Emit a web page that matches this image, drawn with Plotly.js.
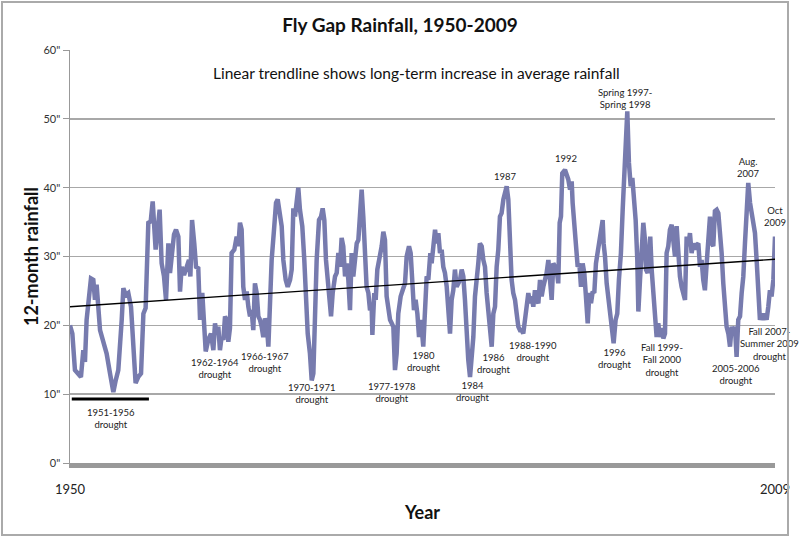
<!DOCTYPE html>
<html>
<head>
<meta charset="utf-8">
<script src="https://cdn.plot.ly/plotly-3.0.1.min.js"></script>
<style>
  html, body { margin: 0; padding: 0; background: #fff; }
  #wrap { position: relative; width: 800px; height: 539px; }
  #chart { position: absolute; left: 0; top: 0; width: 800px; height: 539px; }
  #frame { position: absolute; left: 1px; top: 1px; width: 788px; height: 535px; box-sizing: border-box; border: 2px solid #aaaaaa; pointer-events: none; }
</style>
</head>
<body>
<div id="wrap"><div id="chart"></div><div id="frame"></div></div>
<script>
// 12-month rainfall (inches), [decimal year, inches]
const rainfall12mo = [
  [1950.00,20.0],[1950.20,18.8],[1950.42,13.5],[1950.71,12.8],[1950.93,12.5],[1951.13,16.4],[1951.27,14.7],[1951.41,20.8],[1951.61,24.7],[1951.78,26.8],
  [1951.98,26.6],[1952.12,23.7],[1952.26,25.9],[1952.41,22.7],[1952.55,19.3],[1952.83,17.6],[1953.11,15.9],[1953.40,13.0],[1953.68,10.3],[1953.88,12.0],
  [1954.10,13.5],[1954.39,20.8],[1954.53,25.4],[1954.73,24.4],[1954.95,24.7],[1955.18,22.7],[1955.38,16.9],[1955.57,11.6],[1955.80,12.5],[1956.03,13.0],
  [1956.23,21.7],[1956.42,22.5],[1956.65,34.9],[1956.85,35.1],[1957.02,38.0],[1957.16,33.9],[1957.27,31.0],[1957.44,33.9],[1957.61,36.8],[1957.78,29.0],
  [1957.98,27.1],[1958.15,23.7],[1958.35,31.9],[1958.49,27.6],[1958.63,30.5],[1958.83,33.2],[1959.00,33.9],[1959.20,32.9],[1959.34,24.9],[1959.48,28.5],
  [1959.68,27.3],[1959.90,28.5],[1960.10,29.5],[1960.22,27.1],[1960.36,35.3],[1960.55,31.9],[1960.70,28.5],[1960.89,28.3],[1961.04,20.8],[1961.23,24.7],
  [1961.40,20.3],[1961.52,16.2],[1961.74,17.9],[1961.97,18.8],[1962.17,16.4],[1962.31,20.3],[1962.45,18.8],[1962.59,19.8],[1962.73,16.4],[1962.87,18.3],
  [1963.02,17.9],[1963.16,21.3],[1963.30,20.8],[1963.44,17.6],[1963.58,19.6],[1963.72,30.5],[1963.95,31.0],[1964.15,32.9],[1964.29,31.5],[1964.43,34.9],
  [1964.57,33.9],[1964.71,25.6],[1964.86,23.7],[1965.00,24.9],[1965.14,22.7],[1965.28,21.3],[1965.42,22.2],[1965.56,19.3],[1965.70,26.1],[1965.85,24.7],
  [1965.99,21.3],[1966.13,20.8],[1966.27,19.8],[1966.41,18.3],[1966.55,21.0],[1966.70,20.3],[1966.84,16.9],[1966.98,23.7],[1967.12,29.5],[1967.32,33.9],
  [1967.49,37.8],[1967.63,38.3],[1967.77,36.8],[1967.97,34.4],[1968.11,29.5],[1968.31,26.6],[1968.48,25.6],[1968.68,26.6],[1968.82,28.1],[1968.96,37.0],
  [1969.10,35.8],[1969.24,38.3],[1969.38,40.0],[1969.52,36.8],[1969.72,34.4],[1969.89,29.5],[1970.03,24.7],[1970.18,18.8],[1970.37,15.9],[1970.52,12.0],
  [1970.66,13.0],[1970.80,20.8],[1970.94,29.5],[1971.14,35.3],[1971.31,35.8],[1971.45,37.0],[1971.59,35.3],[1971.73,29.5],[1971.87,26.6],[1971.99,23.7],
  [1972.16,21.3],[1972.30,24.7],[1972.50,27.1],[1972.64,27.6],[1972.78,30.5],[1972.92,28.5],[1973.06,32.7],[1973.20,31.5],[1973.35,27.1],[1973.49,29.0],
  [1973.63,26.6],[1973.77,22.2],[1973.91,30.5],[1974.05,27.1],[1974.19,29.5],[1974.34,31.9],[1974.48,32.4],[1974.62,36.3],[1974.76,39.7],[1974.90,35.8],
  [1975.04,29.0],[1975.18,25.6],[1975.33,24.7],[1975.47,22.2],[1975.61,22.7],[1975.67,18.6],[1975.83,24.7],[1975.95,23.7],[1976.09,28.1],[1976.26,29.5],
  [1976.46,31.5],[1976.60,33.6],[1976.74,32.4],[1976.88,24.2],[1977.02,22.2],[1977.17,20.8],[1977.31,20.3],[1977.45,19.8],[1977.59,13.5],[1977.73,15.9],
  [1977.87,21.7],[1978.07,24.2],[1978.24,25.1],[1978.44,26.1],[1978.58,30.0],[1978.78,31.5],[1978.92,30.5],[1979.06,26.1],[1979.20,22.2],[1979.34,23.7],
  [1979.49,21.7],[1979.63,18.3],[1979.80,20.8],[1979.99,16.9],[1980.14,24.7],[1980.28,27.1],[1980.42,26.6],[1980.59,30.5],[1980.70,29.0],[1980.84,32.4],
  [1980.99,33.9],[1981.13,31.9],[1981.27,33.4],[1981.41,30.5],[1981.55,31.0],[1981.69,28.5],[1981.83,27.6],[1981.98,25.6],[1982.12,22.7],[1982.26,18.8],
  [1982.40,23.7],[1982.54,25.1],[1982.68,28.1],[1982.82,25.6],[1982.97,26.1],[1983.11,26.6],[1983.25,28.1],[1983.39,27.1],[1983.53,23.7],[1983.67,18.3],
  [1983.81,15.0],[1983.96,12.5],[1984.10,15.0],[1984.24,18.3],[1984.38,24.2],[1984.52,26.1],[1984.66,29.0],[1984.80,31.9],[1984.95,31.5],[1985.09,29.5],
  [1985.23,28.5],[1985.37,24.7],[1985.51,21.7],[1985.65,18.3],[1985.80,16.9],[1985.94,21.7],[1986.08,22.7],[1986.22,28.5],[1986.36,31.0],[1986.50,35.8],
  [1986.64,36.3],[1986.79,38.3],[1986.93,39.7],[1987.07,40.2],[1987.21,38.3],[1987.35,30.5],[1987.49,26.6],[1987.63,24.7],[1987.78,23.7],[1987.92,21.7],
  [1988.06,19.8],[1988.20,19.3],[1988.34,19.3],[1988.48,18.8],[1988.62,20.8],[1988.77,23.7],[1988.91,24.7],[1989.05,23.2],[1989.19,24.2],[1989.33,22.7],
  [1989.47,25.1],[1989.62,23.7],[1989.76,23.2],[1989.90,26.6],[1990.04,24.2],[1990.18,25.6],[1990.32,26.6],[1990.46,27.6],[1990.61,29.5],[1990.75,25.1],
  [1990.89,23.7],[1991.03,29.0],[1991.17,28.5],[1991.31,28.1],[1991.45,26.1],[1991.57,34.9],[1991.68,35.8],[1991.79,42.1],[1992.02,42.6],[1992.16,41.9],
  [1992.30,41.2],[1992.45,39.7],[1992.59,40.9],[1992.67,37.8],[1992.81,34.4],[1992.95,30.5],[1993.10,28.5],[1993.24,29.0],[1993.38,25.6],[1993.52,29.0],
  [1993.66,27.6],[1993.78,24.7],[1993.95,20.3],[1994.09,24.7],[1994.23,23.2],[1994.37,24.9],[1994.51,24.7],[1994.65,29.0],[1994.79,30.5],[1994.94,32.4],
  [1995.08,33.4],[1995.22,35.3],[1995.30,31.9],[1995.42,30.0],[1995.56,26.1],[1995.76,22.7],[1995.98,19.3],[1996.15,17.4],[1996.32,20.8],[1996.46,21.7],
  [1996.60,26.6],[1996.77,30.5],[1996.92,36.8],[1997.06,43.1],[1997.20,49.9],[1997.31,51.1],[1997.45,43.6],[1997.60,40.2],[1997.74,41.4],[1997.88,38.7],
  [1998.02,35.3],[1998.16,29.5],[1998.25,22.0],[1998.39,26.6],[1998.53,32.4],[1998.67,34.9],[1998.81,32.4],[1998.90,28.1],[1999.04,27.6],[1999.15,31.5],
  [1999.26,32.9],[1999.38,28.1],[1999.52,24.2],[1999.66,20.3],[1999.80,18.3],[1999.94,20.3],[2000.08,18.3],[2000.23,19.6],[2000.37,18.1],[2000.51,18.8],
  [2000.65,30.5],[2000.79,31.5],[2000.93,33.9],[2001.08,34.6],[2001.22,32.4],[2001.36,30.0],[2001.50,34.4],[2001.64,30.5],[2001.78,27.1],[2001.92,25.6],
  [2002.07,24.2],[2002.21,23.7],[2002.35,32.9],[2002.49,31.5],[2002.63,33.4],[2002.77,30.5],[2002.91,31.9],[2003.06,31.0],[2003.20,31.7],[2003.34,31.9],
  [2003.48,28.5],[2003.62,29.5],[2003.76,26.6],[2003.90,25.1],[2004.05,29.0],[2004.19,32.4],[2004.33,35.8],[2004.47,31.9],[2004.61,31.5],[2004.75,36.6],
  [2004.90,36.8],[2005.04,36.3],[2005.18,33.9],[2005.32,30.5],[2005.46,26.1],[2005.60,22.7],[2005.74,19.8],[2005.89,18.8],[2006.03,16.9],[2006.17,19.8],
  [2006.31,18.8],[2006.45,19.8],[2006.59,15.4],[2006.73,20.8],[2006.88,21.3],[2007.02,24.7],[2007.16,27.1],[2007.30,31.9],[2007.44,37.8],[2007.58,40.7],
  [2007.73,37.8],[2007.87,36.3],[2008.01,35.8],[2008.15,33.4],[2008.29,29.5],[2008.43,23.7],[2008.57,20.8],[2008.72,21.7],[2008.86,20.8],[2009.00,21.7],
  [2009.14,20.8],[2009.28,22.7],[2009.42,25.1],[2009.56,24.2],[2009.71,26.6],[2009.85,32.9]
];

// Linear trendline end points
const trendYears = [1950.0, 2009.85];
const trendInches = [22.7, 29.6];

// 1951-1956 drought bar
const droughtBarYears = [1950.15, 1956.7];
const droughtBarInches = [9.3, 9.3];

// Axis ticks
const yTickVals = [0, 10, 20, 30, 40, 50, 60];
const yTickText = ['0"', '10"', '20"', '30"', '40"', '50"', '60"'];
const xTickVals = [1950, 2009.85];
const xTickText = ['1950', '2009'];

// Event labels: text, year, inches
const labelTexts = [
  '1951-1956<br>drought', '1962-1964<br>drought', '1966-1967<br>drought', '1970-1971<br>drought',
  '1977-1978<br>drought', '1980<br>drought', '1984<br>drought', '1986<br>drought', '1987',
  '1988-1990<br>drought', '1992', 'Spring 1997-<br>Spring 1998', '1996<br>drought',
  'Fall 1999-<br>Fall 2000<br>drought', 'Aug.<br>2007', 'Oct<br>2009',
  'Fall 2007-<br>Summer 2009<br>drought', '2005-2006<br>drought'
];
const labelYears = [1953.48, 1962.35, 1966.55, 1970.54, 1977.33, 1979.97, 1984.13, 1985.91, 1987.01,
  1989.30, 1992.11, 1997.11, 1996.26, 2000.25, 2007.64, 2009.85, 2009.35, 2006.54];
const labelInches = [6.5, 13.7, 14.6, 10.1, 10.2, 14.7, 10.4, 14.4, 41.6,
  16.2, 44.2, 53.0, 15.2, 15.0, 43.0, 35.8, 17.3, 12.9];

const subtitleText = 'Linear trendline shows long-term increase in average rainfall';

const FONT = 'Lato, "Open Sans", sans-serif';

const traces = [
  {
    x: rainfall12mo.map(d => d[0]), y: rainfall12mo.map(d => d[1]),
    type: 'scatter', mode: 'lines',
    line: { color: '#777bae', width: 4.5 },
    hoverinfo: 'skip'
  },
  {
    x: trendYears, y: trendInches, type: 'scatter', mode: 'lines',
    line: { color: '#000', width: 1.3 }, hoverinfo: 'skip'
  },
  {
    x: droughtBarYears, y: droughtBarInches, type: 'scatter', mode: 'lines',
    line: { color: '#000', width: 3 }, hoverinfo: 'skip'
  }
];

const annotations = labelTexts.map((t, i) => ({
  text: t, x: labelYears[i], y: labelInches[i], xref: 'x', yref: 'y',
  showarrow: false, xanchor: 'center', yanchor: 'middle', align: 'center',
  font: { family: FONT, size: 9.5, color: '#222' }
}));
annotations.push({
  text: subtitleText, x: 0.492, y: 0.944, xref: 'paper', yref: 'paper',
  showarrow: false, xanchor: 'center', yanchor: 'middle',
  font: { family: FONT, size: 15.5, color: '#111' }
});

const layout = {
  width: 800, height: 539,
  margin: { l: 70, r: 25, t: 50, b: 76 },
  paper_bgcolor: '#fff', plot_bgcolor: '#fff',
  font: { family: FONT, color: '#222' },
  showlegend: false,
  title: {
    text: 'Fly Gap Rainfall, 1950-2009',
    font: { family: FONT, size: 19, color: '#111', weight: 'bold' },
    x: 0.5, xanchor: 'center', xref: 'container',
    y: 1 - 25 / 539, yanchor: 'middle', yref: 'container'
  },
  xaxis: {
    range: [1950, 2009.85], tickmode: 'array', tickvals: xTickVals, ticktext: xTickText,
    showgrid: false, zeroline: false, showline: true, linecolor: '#999', linewidth: 5,
    ticks: 'outside', ticklen: 10, tickcolor: 'rgba(0,0,0,0)',
    tickfont: { family: FONT, size: 13, color: '#222' },
    title: { text: 'Year', font: { family: FONT, size: 18, color: '#111', weight: 'bold' }, standoff: 12 }
  },
  yaxis: {
    range: [0, 60], tickmode: 'array', tickvals: yTickVals, ticktext: yTickText,
    showgrid: true, gridcolor: '#a8a8a8', gridwidth: 1.5, zeroline: false,
    showline: true, linecolor: '#999', linewidth: 1.5,
    ticks: 'outside', ticklen: 6, tickcolor: '#999', tickwidth: 1,
    tickfont: { family: FONT, size: 11, color: '#333' },
    title: { text: '12-month rainfall', font: { family: FONT, size: 18, color: '#111', weight: 'bold' }, standoff: 0 }
  },
  annotations: annotations
};

Plotly.newPlot('chart', traces, layout, { displayModeBar: false, staticPlot: true });
</script>
</body>
</html>
